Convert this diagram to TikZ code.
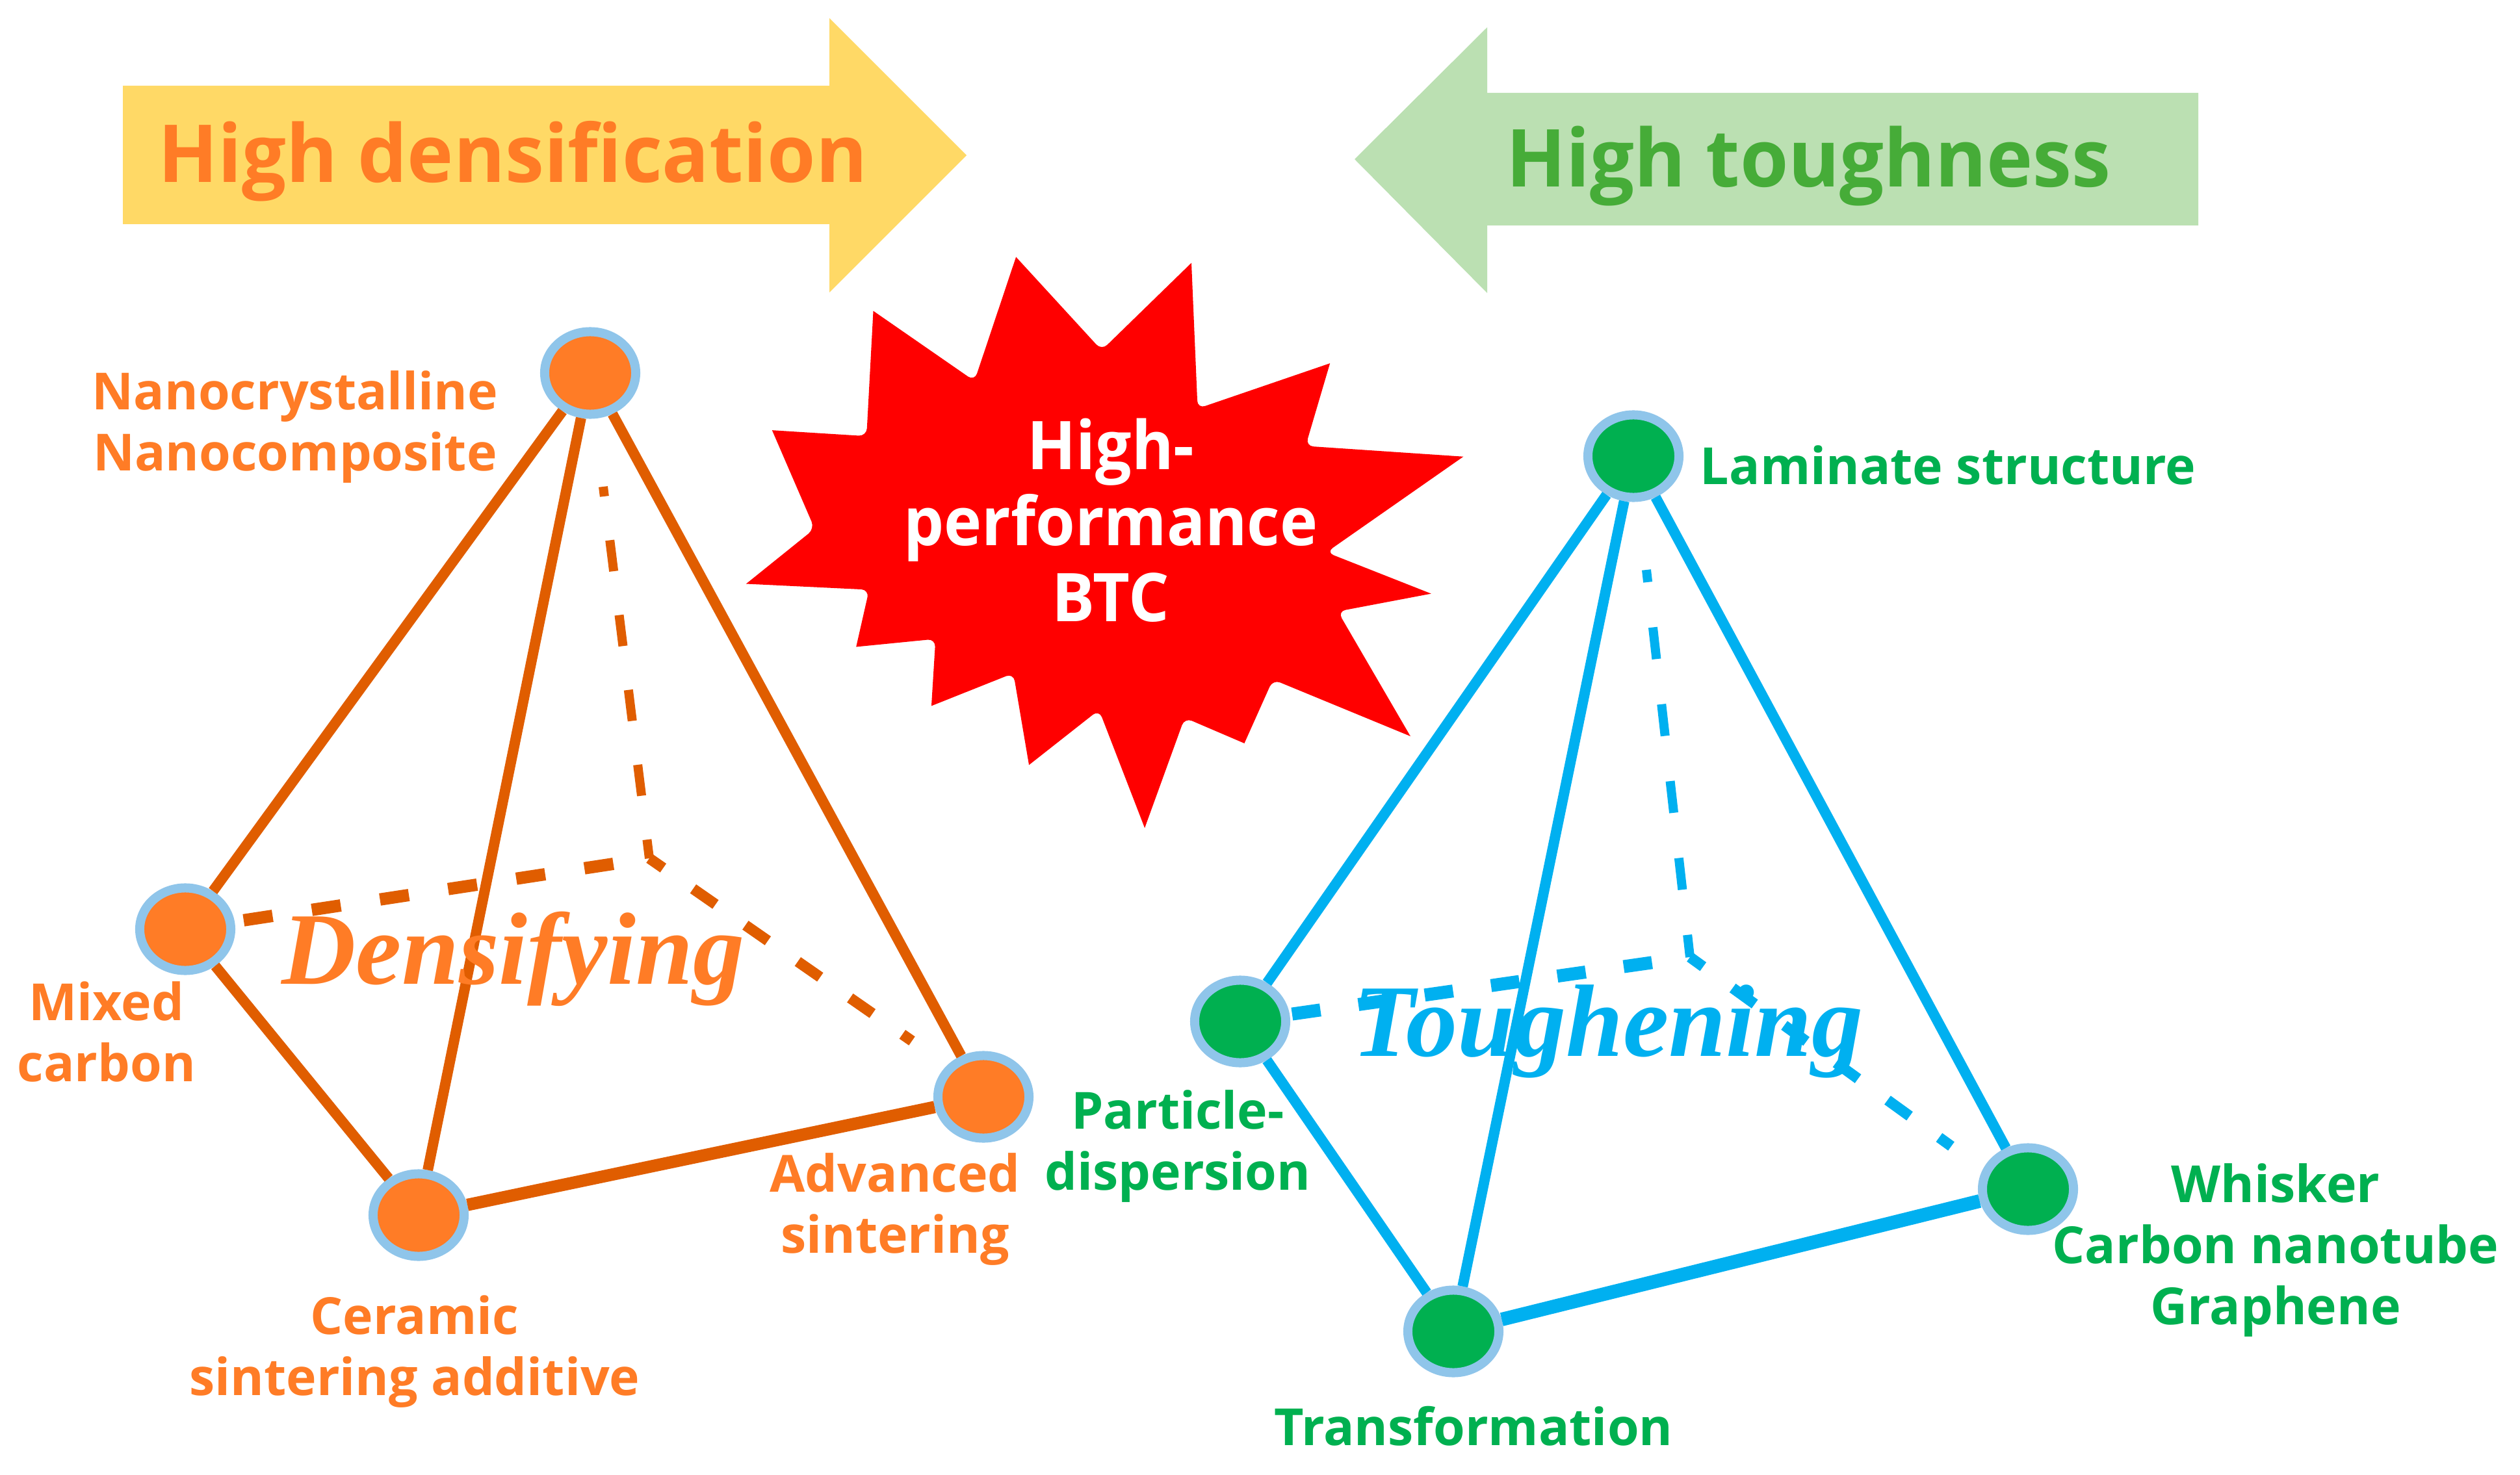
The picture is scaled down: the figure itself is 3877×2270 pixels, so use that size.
\documentclass[tikz,border=0pt]{standalone}
\usepackage{fontspec}
\usetikzlibrary{shapes.geometric}
\setmainfont{Open Sans}
\newfontfamily\serifbi{Liberation Serif}
\newfontfamily\headfont{Open Sans}[FakeStretch=0.978]
\newfontfamily\btcfont{Open Sans}[FakeStretch=0.95]
\definecolor{orangetext}{HTML}{FF7C26}
\definecolor{orangeline}{HTML}{E05D00}
\definecolor{yellowarrow}{HTML}{FFD966}
\definecolor{greenarrow}{HTML}{BBE0B2}
\definecolor{greenhead}{HTML}{46AC38}
\definecolor{greentext}{HTML}{00B050}
\definecolor{blueline}{HTML}{00B0F0}
\definecolor{ringblue}{HTML}{8FC5EA}
\tikzset{
  vertexo/.style={ellipse,draw=ringblue,fill=orangetext,line width=0.14cm,inner sep=0pt,minimum width=1.40cm,minimum height=1.27cm},
  vertexg/.style={ellipse,draw=ringblue,fill=greentext,line width=0.14cm,inner sep=0pt,minimum width=1.40cm,minimum height=1.27cm},
  lab/.style={font=\fontsize{22.4}{26.7}\selectfont\bfseries,align=center,inner sep=0pt},
  labo/.style={lab,text=orangetext},
  labg/.style={lab,text=greentext},
  headline/.style={font=\fontsize{35}{40}\headfont\selectfont\bfseries,inner sep=0pt,anchor=base west},
  bignote/.style={font=\fontsize{45}{50}\serifbi\selectfont\bfseries\itshape,inner sep=0pt,anchor=base west},
  edgeo/.style={draw=orangeline,line width=0.16cm},
  edgeb/.style={draw=blueline,line width=0.16cm},
  hidtopo/.style={draw=orangeline,line width=0.14cm,dash pattern=on 0.48cm off 0.68cm,dash phase=0.33cm},
  hidlefto/.style={draw=orangeline,line width=0.19cm,dash pattern=on 0.45cm off 0.61cm,dash phase=0.50cm},
  hidrighto/.style={draw=orangeline,line width=0.165cm,dash pattern=on 0.42cm off 0.56cm,dash phase=0.16cm},
  hidtopb/.style={draw=blueline,line width=0.14cm,dash pattern=on 0.49cm off 0.70cm,dash phase=0.30cm},
  hidleftb/.style={draw=blueline,line width=0.20cm,dash pattern=on 0.44cm off 0.59cm,dash phase=0.44cm},
  hidrightb/.style={draw=blueline,line width=0.165cm,dash pattern=on 0.42cm off 0.56cm,dash phase=0.17cm}
}
\begin{document}
\begin{tikzpicture}[x=0.01cm,y=-0.01cm]
\useasboundingbox (0,0) rectangle (3877,2270);
% block arrows
\fill[yellowarrow] (189,132) -- (1276,132) -- (1276,28) -- (1487,239) -- (1276,450) -- (1276,345) -- (189,345) -- cycle;
\fill[greenarrow] (3382,143) -- (2288,143) -- (2288,42) -- (2084,245) -- (2288,451) -- (2288,347) -- (3382,347) -- cycle;
\node[headline,text=orangetext] (hd) at (243,281) {High densification};
\node[headline,text=greenhead] (ht) at (2317,288) {High toughness};
% star
\begin{scope}[shift={(1100,350)},x=0.007974cm,y=-0.00606cm]
\fill[red] (580,75) [rounded corners=0.12cm] -- (745,312) [sharp corners] -- (918,90) [rounded corners=0.12cm] -- (930,460) [sharp corners] -- (1185,345) [rounded corners=0.12cm] -- (1138,555) [sharp corners] -- (1442,582) [rounded corners=0.12cm] -- (1178,825) [sharp corners] -- (1380,930) [rounded corners=0.12cm] -- (1200,975) [sharp corners] -- (1340,1292) [rounded corners=0.12cm] -- (1075,1148) [sharp corners] -- (1020,1310) [rounded corners=0.12cm] -- (905,1245) [sharp corners] -- (828,1525) [rounded corners=0.12cm] -- (740,1225) [sharp corners] -- (605,1365) [rounded corners=0.12cm] -- (575,1132) [sharp corners] -- (417,1215) [rounded corners=0.12cm] -- (425,1045) [sharp corners] -- (272,1065) [rounded corners=0.12cm] -- (297,920) [sharp corners] -- (60,905) [rounded corners=0.12cm] -- (192,765) [sharp corners] -- (110,515) [rounded corners=0.12cm] -- (292,530) [sharp corners] -- (305,212) [rounded corners=0.12cm] -- (500,390) [sharp corners] -- cycle;
\end{scope}
\node[lab,text=white,font=\fontsize{29.4}{33.3}\btcfont\selectfont\bfseries] (btc) at (1709,801) {High-\\performance\\BTC};
% left tetrahedron
\node[vertexo] (la) at (908,574) {};
\node[vertexo] (lb) at (285,1430) {};
\node[vertexo] (lc) at (644,1870) {};
\node[vertexo] (ld) at (1513,1688) {};
\coordinate (le) at (999,1321);
\coordinate (lt) at (928,749);
\coordinate (lr) at (1403,1602);
\draw[edgeo] (la) -- (lb);
\draw[edgeo] (la) -- (lc);
\draw[edgeo] (la) -- (ld);
\draw[edgeo] (lb) -- (lc);
\draw[edgeo,line width=0.19cm] (lc) -- (ld);
\draw[hidtopo] (lt) -- (le);
\draw[hidlefto] (le) -- (lb);
\draw[hidrighto] (le) -- (lr);
\node[bignote,text=orangetext] (dens) at (433,1514) {Densifying};
% right tetrahedron
\node[vertexg] (ra) at (2513,702) {};
\node[vertexg] (rb) at (1908,1572) {};
\node[vertexg] (rc) at (2236,2049) {};
\node[vertexg] (rd) at (3120,1830) {};
\coordinate (re) at (2600,1473);
\coordinate (rt) at (2533,877);
\coordinate (rr) at (3002,1764);
\draw[edgeb] (ra) -- (rb);
\draw[edgeb] (ra) -- (rc);
\draw[edgeb] (ra) -- (rd);
\draw[edgeb] (rb) -- (rc);
\draw[edgeb,line width=0.21cm] (rc) -- (rd);
\draw[hidtopb] (rt) -- (re);
\draw[hidleftb] (re) -- (rb);
\draw[hidrightb] (re) -- (rr);
\node[bignote,text=blueline] (tough) at (2080,1625) {Toughening};
% labels
\node[labo] (l1) at (454,657) {Nanocrystalline\\Nanocomposite};
\node[labo] (l2) at (164,1588) {Mixed\\carbon};
\node[labo] (l3) at (638,2080) {Ceramic\\sintering additive};
\node[labo] (l4) at (1377,1861) {Advanced\\sintering};
\node[labg] (l5) at (2997,716) {Laminate structure};
\node[labg] (l6) at (1812,1764) {Particle-\\dispersion};
\node[labg] (l7) at (3501,1924) {Whisker\\Carbon nanotube\\Graphene};
\node[labg] (l8) at (2267,2195) {Transformation};
\end{tikzpicture}
\end{document}
